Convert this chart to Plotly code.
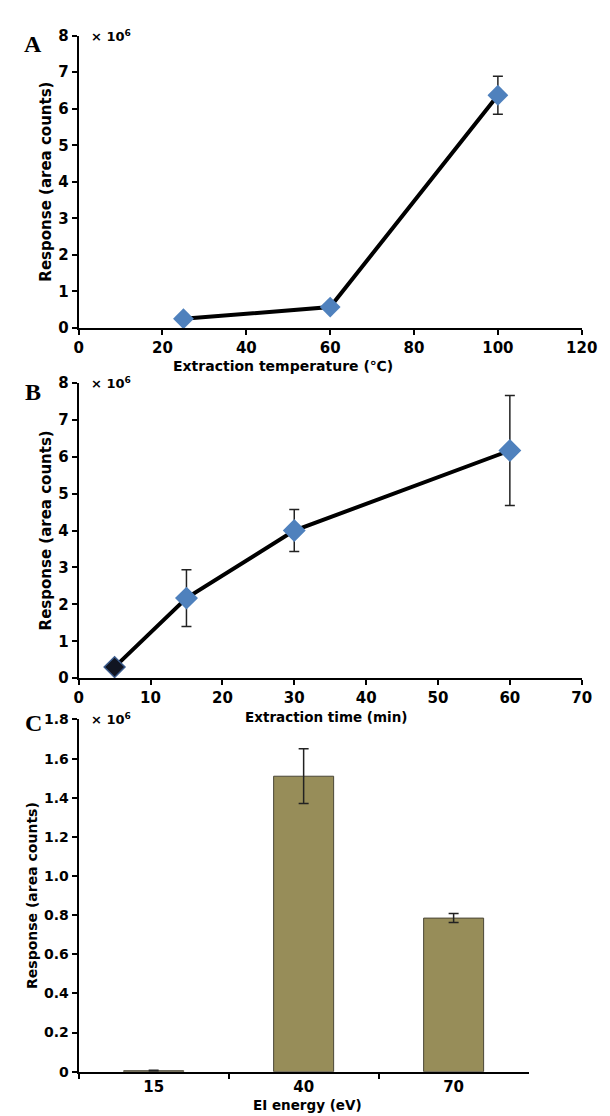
import plotly.graph_objects as go

# ---- Data (response in units of 10^6 area counts) ----
temp_c = [25, 60, 100]
temp_resp = [0.25, 0.57, 6.37]
temp_err = [0.03, 0.04, 0.52]

time_min = [5, 15, 30, 60]
time_resp = [0.30, 2.17, 4.00, 6.17]
time_err = [0.03, 0.77, 0.57, 1.49]

ei_labels = ["15", "40", "70"]
ei_resp = [0.005, 1.51, 0.785]
ei_err = [0.002, 0.14, 0.023]

c_tickvals = [0, 0.2, 0.4, 0.6, 0.8, 1.0, 1.2, 1.4, 1.6, 1.8]
c_ticktext = ["0", "0.2", "0.4", "0.6", "0.8", "1.0", "1.2", "1.4", "1.6", "1.8"]

W, H = 610, 1116
FONT = "DejaVu Sans"
BLUE = "#4F81BD"
OLIVE = "#978D59"

def py(p):
    return 1 - p / H

def px(p):
    return p / W

fig = go.Figure()

fig.add_trace(go.Scatter(
    x=temp_c, y=temp_resp, mode="lines+markers",
    line=dict(color="black", width=4),
    marker=dict(symbol="diamond", size=16, color=BLUE),
    error_y=dict(type="data", array=temp_err, color="#222", thickness=1.5, width=5),
    xaxis="x", yaxis="y", showlegend=False))

fig.add_trace(go.Scatter(
    x=time_min, y=time_resp, mode="lines+markers",
    line=dict(color="black", width=4),
    marker=dict(symbol="diamond", size=16,
                color=["#111522", BLUE, BLUE, BLUE],
                line=dict(color=["#3b5b8c", BLUE, BLUE, BLUE], width=1.5)),
    error_y=dict(type="data", array=time_err, color="#222", thickness=1.5, width=5),
    xaxis="x2", yaxis="y2", showlegend=False))

fig.add_trace(go.Bar(
    x=ei_labels, y=ei_resp, width=0.4,
    marker=dict(color=OLIVE, line=dict(color="#4a4636", width=1)),
    error_y=dict(type="data", array=ei_err, color="#222", thickness=1.5, width=5),
    xaxis="x3", yaxis="y3", showlegend=False))

def axis_style(size):
    return dict(showline=True, linecolor="black", linewidth=2, ticks="outside",
                ticklen=5, tickwidth=2, tickcolor="black", showgrid=False,
                zeroline=False,
                tickfont=dict(family=FONT, size=size, color="black", weight="bold"))

fig.update_layout(
    width=W, height=H, margin=dict(l=0, r=0, t=0, b=0),
    paper_bgcolor="white", plot_bgcolor="white",
    xaxis=dict(domain=[px(68), px(589)], range=[0, 120], tickvals=[0, 20, 40, 60, 80, 100, 120],
               anchor="y", **axis_style(15)),
    yaxis=dict(domain=[py(316), py(19)], range=[0, 8], tickvals=list(range(0, 9)),
               anchor="x", **axis_style(15)),
    xaxis2=dict(domain=[px(68), px(589)], range=[0, 70], tickvals=list(range(0, 80, 10)),
                anchor="y2", **axis_style(15)),
    yaxis2=dict(domain=[py(672), py(372)], range=[0, 8], tickvals=list(range(0, 9)),
                anchor="x2", **axis_style(15)),
    xaxis3=dict(domain=[px(68), px(534)], type="category", range=[-0.5, 2.5],
                tickson="boundaries", anchor="y3", **axis_style(15)),
    yaxis3=dict(domain=[py(1072), py(714)], range=[0, 1.8], tickvals=c_tickvals,
                ticktext=c_ticktext, anchor="x3", **axis_style(14)),
)

letter_font = dict(family="Liberation Serif", size=24, color="black", weight="bold")
annotations = []
# panel letters
for letter, y in [("A", 27), ("B", 381), ("C", 718)]:
    annotations.append(dict(text=letter, x=px(21), y=py(y), xref="paper", yref="paper",
                            showarrow=False, font=letter_font, xanchor="center", yanchor="middle"))
# multipliers
for y in [19, 372, 714]:
    annotations.append(dict(text="× 10<sup>6</sup>", x=px(79), y=py(y), xref="paper", yref="paper",
                            showarrow=False, font=dict(family=FONT, size=13, color="black", weight="bold"),
                            xanchor="left", yanchor="middle"))
# y titles
for x, yc, size in [(34, (316 + 19) / 2, 15), (34, (672 + 372) / 2, 15), (19, (1072 + 714) / 2, 14)]:
    annotations.append(dict(text="Response (area counts)", x=px(x), y=py(yc), xref="paper", yref="paper",
                            showarrow=False, textangle=-90,
                            font=dict(family=FONT, size=size, color="black", weight="bold"),
                            xanchor="center", yanchor="middle"))
# x titles
for text, x, y, size in [("Extraction temperature (℃)", 280, 355, 14),
                         ("Extraction time (min)", 324, 711, 13.5),
                         ("EI energy (eV)", 305, 1106, 13.5)]:
    annotations.append(dict(text=text, x=px(x), y=py(y), xref="paper", yref="paper",
                            showarrow=False,
                            font=dict(family=FONT, size=size, color="black", weight="bold"),
                            xanchor="center", yanchor="middle"))
fig.update_layout(annotations=annotations)

fig.write_html("out.html")
